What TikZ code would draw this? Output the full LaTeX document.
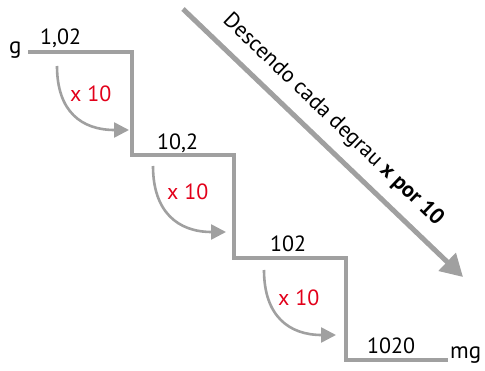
\documentclass[tikz,border=0pt]{standalone}
\usepackage{fontspec}
\setmainfont{PT Sans}
\usetikzlibrary{arrows.meta}
\definecolor{stairgray}{RGB}{160,160,160}
\definecolor{labred}{RGB}{226,0,26}
\begin{document}
\begin{tikzpicture}[x=1pt,y=-1pt,
  stair/.style={draw=stairgray,line width=4pt,line join=miter},
  stepval/.style={anchor=base west,inner sep=0pt,font=\fontsize{22}{26}\selectfont},
  unitlab/.style={anchor=base west,inner sep=0pt,font=\fontsize{23}{26}\selectfont},
  multlab/.style={anchor=base west,inner sep=0pt,text=labred,font=\fontsize{22}{26}\selectfont},
  curvearrow/.style={draw=stairgray,line width=2.6pt,-{Triangle[length=15pt,width=15pt]}},
  bigarrow/.style={draw=stairgray,line width=5pt,-{Triangle[length=22pt,width=24pt]}}]
\useasboundingbox (0,0) rectangle (485,371);
% stair corners
\coordinate (s0) at (28,52);
\coordinate (c1) at (132,52);
\coordinate (c2) at (132,155);
\coordinate (c3) at (234,155);
\coordinate (c4) at (234,258);
\coordinate (c5) at (346,258);
\coordinate (c6) at (346,360);
\coordinate (s7) at (448,360);
\draw[stair] (s0) -- (c1) -- (c2) -- (c3) -- (c4) -- (c5) -- (c6) -- (s7);
% unit labels
\node[unitlab] (g) at (9,54) {g};
\node[unitlab] (mg) at (450,359) {mg};
% values
\node[stepval] (v1) at (40,45) {1,02};
\node[stepval] (v2) at (157,150) {10,2};
\node[stepval] (v3) at (270,252) {102};
\node[stepval] (v4) at (367,354) {1020};
% multiplier labels
\node[multlab] (m1) at (70,102) {x 10};
\node[multlab] (m2) at (167,200) {x 10};
\node[multlab] (m3) at (278,306) {x 10};
% curved arrows
\coordinate (a1s) at (57,66);
\coordinate (a1e) at (129,130);
\coordinate (a2s) at (153,166);
\coordinate (a2e) at (226,232);
\coordinate (a3s) at (264,270);
\coordinate (a3e) at (336,335);
\draw[curvearrow] (a1s) .. controls (57,112) and (82,130) .. (a1e);
\draw[curvearrow] (a2s) .. controls (153,212) and (178,232) .. (a2e);
\draw[curvearrow] (a3s) .. controls (264,316) and (289,335) .. (a3e);
% big arrow
\coordinate (bs) at (183,9);
\coordinate (be) at (463,277);
\draw[bigarrow] (bs) -- (be);
\node[rotate=-43.75,inner sep=0pt,font=\fontsize{22}{26}\selectfont] (desc) at (333,120) {Descendo cada degrau \textbf{x por 10}};
\end{tikzpicture}
\end{document}
